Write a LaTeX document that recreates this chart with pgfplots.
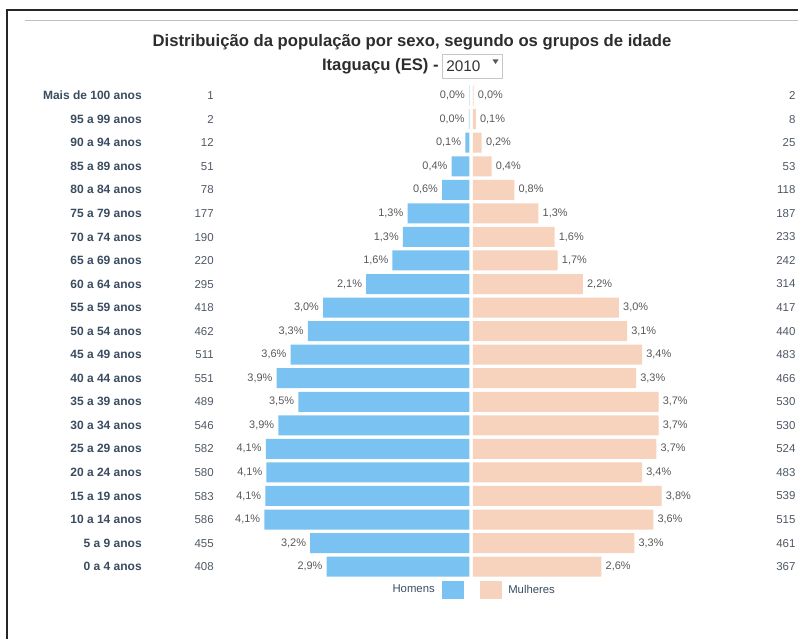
\documentclass[border=0pt]{standalone}
\usepackage{pgfplots}
\pgfplotsset{compat=1.18}
\usepackage{pgfplotstable}
\usepackage{fontspec}
\setmainfont{Liberation Sans}
\newlength\px \setlength\px{0.75pt}
\definecolor{hblue}{RGB}{122,194,241}
\definecolor{mpeach}{RGB}{247,210,188}
\definecolor{agecol}{RGB}{58,76,96}
\definecolor{numcol}{RGB}{78,88,100}
\definecolor{pctcol}{RGB}{88,88,88}
\definecolor{titlecol}{RGB}{45,45,45}
\newcommand\ft[1]{\fontsize{#1}{#1}\selectfont}
\newcommand{\lab}[2]{\makebox[214\px][r]{{\bfseries\ft{9}\color{agecol}#1}\makebox[72\px][r]{\ft{8.6}\color{numcol}#2}}}
\newcommand{\rlab}[1]{{\ft{8.6}\color{numcol}#1}}

\pgfplotstableread{
row n pct
0 408 2,9
1 455 3,2
2 586 4,1
3 583 4,1
4 580 4,1
5 582 4,1
6 546 3,9
7 489 3,5
8 551 3,9
9 511 3,6
10 462 3,3
11 418 3,0
12 295 2,1
13 220 1,6
14 190 1,3
15 177 1,3
16 78 0,6
17 51 0,4
18 12 0,1
19 2 0,0
20 1 0,0
}\male

\pgfplotstableread{
row n pct
0 367 2,6
1 461 3,3
2 515 3,6
3 539 3,8
4 483 3,4
5 524 3,7
6 530 3,7
7 530 3,7
8 466 3,3
9 483 3,4
10 440 3,1
11 417 3,0
12 314 2,2
13 242 1,7
14 233 1,6
15 187 1,3
16 118 0,8
17 53 0,4
18 25 0,2
19 8 0,1
20 2 0,0
}\female

\begin{document}
\begin{tikzpicture}
% Homens
\begin{axis}[at={(0,0)}, anchor=south west, scale only axis,
  width=798\px, height=639\px,
  xmin=-1341.4, xmax=938.6, ymin=-3.074, ymax=24.06,
  axis line style={draw=none}, major tick length=0pt,
  xtick=\empty, ytick={0,...,20},
  yticklabels={\lab{0 a 4 anos}{408},\lab{5 a 9 anos}{455},\lab{10 a 14 anos}{586},\lab{15 a 19 anos}{583},\lab{20 a 24 anos}{580},\lab{25 a 29 anos}{582},\lab{30 a 34 anos}{546},\lab{35 a 39 anos}{489},\lab{40 a 44 anos}{551},\lab{45 a 49 anos}{511},\lab{50 a 54 anos}{462},\lab{55 a 59 anos}{418},\lab{60 a 64 anos}{295},\lab{65 a 69 anos}{220},\lab{70 a 74 anos}{190},\lab{75 a 79 anos}{177},\lab{80 a 84 anos}{78},\lab{85 a 89 anos}{51},\lab{90 a 94 anos}{12},\lab{95 a 99 anos}{2},\lab{Mais de 100 anos}{1}},
  yticklabel style={anchor=east, inner sep=0pt, xshift=214\px},
  clip=false]
\addplot[xbar, bar width=20\px, fill=hblue, draw=none] table[x expr=-\thisrow{n}, y=row] {\male};
\addplot[draw=none, mark=none, nodes near coords={\pgfplotspointmeta\%}, point meta=explicit symbolic,
  nodes near coords style={anchor=east, xshift=-4\px, inner sep=0pt, font=\ft{8.2}, text=pctcol}]
  table[x expr=-\thisrow{n}, y=row, meta=pct] {\male};
\end{axis}
% Mulheres
\begin{axis}[at={(0,0)}, anchor=south west, scale only axis,
  width=798\px, height=639\px,
  xmin=-1351.4, xmax=928.6, ymin=-3.074, ymax=24.06,
  axis line style={draw=none}, major tick length=0pt,
  xtick=\empty, ytick={0,...,20}, yticklabel pos=right,
  yticklabels={\rlab{367},\rlab{461},\rlab{515},\rlab{539},\rlab{483},\rlab{524},\rlab{530},\rlab{530},\rlab{466},\rlab{483},\rlab{440},\rlab{417},\rlab{314},\rlab{242},\rlab{233},\rlab{187},\rlab{118},\rlab{53},\rlab{25},\rlab{8},\rlab{2}},
  yticklabel style={anchor=east, inner sep=0pt, xshift=-2.3\px},
  clip=false]
\addplot[xbar, bar width=20\px, fill=mpeach, draw=none] table[x=n, y=row] {\female};
\addplot[draw=none, mark=none, nodes near coords={\pgfplotspointmeta\%}, point meta=explicit symbolic,
  nodes near coords style={anchor=west, xshift=4\px, inner sep=0pt, font=\ft{8.2}, text=pctcol}]
  table[x=n, y=row, meta=pct] {\female};
\end{axis}
\begin{scope}[x=0.75pt, y=-0.75pt, yshift=479.25pt]
  \draw[line width=2\px, black!85] (7,639) -- (7,10) -- (798,10);
  \draw[line width=1\px, black!25] (25,20.5) -- (798,20.5);
  \node[font=\bfseries\ft{12.5}, text=titlecol, inner sep=0pt] at (412,42) {Distribuição da população por sexo, segundo os grupos de idade};
  \node[font=\bfseries\ft{12.5}, text=titlecol, inner sep=0pt, anchor=east] at (439,66) {Itaguaçu (ES) -};
  \draw[line width=0.8\px, black!22, fill=white] (442,54) rectangle (502,78);
  \node[font=\ft{11.5}, text=black!80, inner sep=0pt, anchor=west] at (446,66) {2010};
  \fill[black!65] (492.5,59.5) -- (498.5,59.5) -- (495.5,64) -- cycle;
  \node[font=\ft{8.5}, text=agecol, inner sep=0pt, anchor=east] at (435,589) {Homens};
  \fill[hblue] (442,581) rectangle (464,599);
  \fill[mpeach] (480,581) rectangle (502,599);
  \node[font=\ft{8.5}, text=agecol, inner sep=0pt, anchor=west] at (508,589) {Mulheres};
\end{scope}
\pgfresetboundingbox
\path (0,0) rectangle (598.5pt,479.25pt);
\end{tikzpicture}
\end{document}
